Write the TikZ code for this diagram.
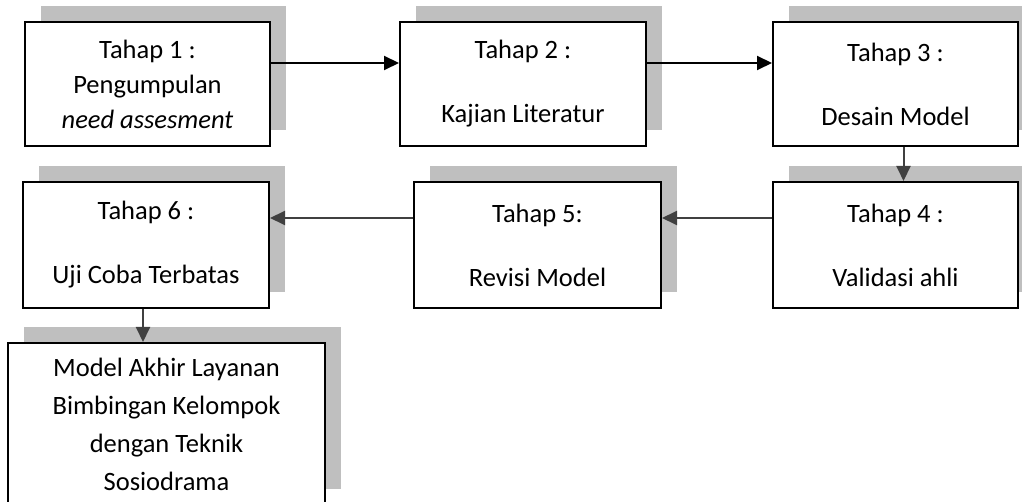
\documentclass[tikz,border=0pt]{standalone}
\usepackage{fontspec}
\setmainfont{Carlito}
\usetikzlibrary{arrows.meta, positioning, shadows, backgrounds}
\definecolor{shadowgray}{RGB}{191,191,191}
\definecolor{linkgray}{RGB}{64,64,64}

\begin{document}
\begin{tikzpicture}[
    x=1pt, y=-1pt,
    stage/.style={rectangle,draw,line width=2pt,fill=white,align=center,
        font=\fontsize{26.5}{35}\selectfont,inner sep=0pt,
        drop shadow={shadow xshift=16pt,shadow yshift=16pt,fill=shadowgray,opacity=1}},
    link/.style={-{Triangle[length=15pt,width=14pt]},line width=2pt},
]
    \useasboundingbox (0,0) rectangle (1022,502);

    % First row
    \node[stage,minimum width=245pt,minimum height=124pt,text depth=-4pt] (tahap1) at (147.5,84) {Tahap 1 :\\Pengumpulan\\\textit{need assesment}};
    \node[stage,minimum width=246pt,minimum height=124pt] (tahap2) at (523,84) {Tahap 2 :\\[29pt]Kajian Literatur};
    \node[stage,minimum width=245pt,minimum height=124pt] (tahap3) at (895.5,84) {Tahap 3 :\\[29pt]Desain Model};

    % Second row
    \node[stage,minimum width=245pt,minimum height=126pt] (tahap4) at (895.5,245) {Tahap 4 :\\[29pt]Validasi ahli};
    \node[stage,minimum width=247pt,minimum height=126pt] (tahap5) at (537.5,245) {Tahap 5:\\[29pt]Revisi Model};
    \node[stage,minimum width=246pt,minimum height=126pt] (tahap6) at (146,245) {Tahap 6 :\\[29pt]Uji Coba Terbatas};

    % Final model
    \node[stage,minimum width=317pt,minimum height=162pt,font=\fontsize{26.5}{38}\selectfont] (akhir) at (166.5,424) {Model Akhir Layanan\\Bimbingan Kelompok\\dengan Teknik\\Sosiodrama};

    % Links
    \draw[link] ([yshift=21pt]tahap1.east) -- ([yshift=21pt]tahap2.west);
    \draw[link] ([yshift=21pt]tahap2.east) -- ([yshift=21pt]tahap3.west);
    \draw[link,linkgray] ([xshift=8pt]tahap3.south) -- ([xshift=8pt]tahap4.north);
    \draw[link,linkgray] ([yshift=27pt]tahap4.west) -- ([yshift=27pt]tahap5.east);
    \draw[link,linkgray] ([yshift=27pt]tahap5.west) -- ([yshift=27pt]tahap6.east);
    \draw[link,linkgray] ([xshift=-3pt]tahap6.south) -- ([xshift=-3pt]tahap6.south |- akhir.north);
\end{tikzpicture}
\end{document}
